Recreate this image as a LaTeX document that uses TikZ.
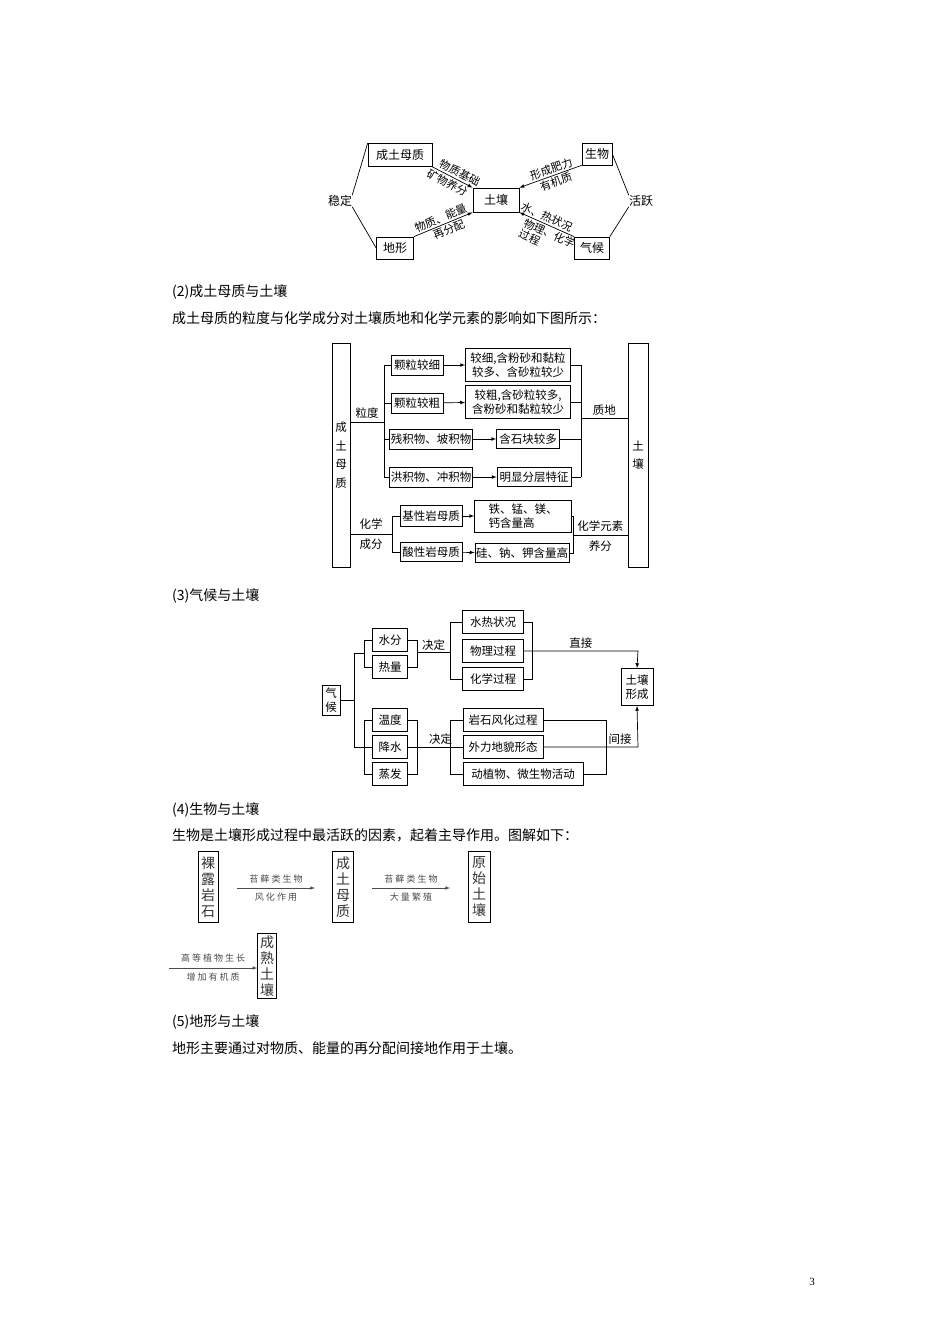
\documentclass[tikz,border=0pt]{standalone}
\usepackage{fontspec}
\setmainfont{Liberation Serif}
\newfontfamily\cjk{Noto Sans CJK SC}
\begin{document}
\begin{tikzpicture}[x=1pt,y=-1pt,
  bx/.style={draw,line width=0.7pt,inner sep=1pt,font=\cjk\fontsize{11.5}{13.5}\selectfont,align=center},
  lb/.style={inner sep=0pt,font=\cjk\fontsize{11.5}{13.5}\selectfont,align=center},
  l1/.style={inner sep=0pt,font=\cjk\fontsize{11}{12}\selectfont,align=center},
  ln/.style={line width=0.7pt},
  ar/.style={line width=0.7pt,-latex},
  tx/.style={anchor=west,inner sep=0pt,font=\cjk\fontsize{14}{16}\selectfont},
  vb/.style={draw,line width=0.6pt,inner sep=1pt,font=\cjk\fontsize{14}{16}\selectfont,align=center,text=black!80},
  sm/.style={inner sep=0pt,font=\cjk\fontsize{9}{11}\selectfont,text=black!70},
  ga/.style={line width=0.6pt,-latex,black!70}]
\useasboundingbox (0,0) rectangle (950,1344);
% ---------- diagram 1
\node[bx,font=\cjk\fontsize{12}{14}\selectfont,minimum width=64,minimum height=23] (m) at (400,155) {成土母质};
\node[bx,font=\cjk\fontsize{12}{14}\selectfont,minimum width=30,minimum height=22] (s) at (597,154) {生物};
\node[bx,font=\cjk\fontsize{12}{14}\selectfont,minimum width=46,minimum height=24] (t) at (496,200) {土壤};
\node[bx,font=\cjk\fontsize{12}{14}\selectfont,minimum width=37,minimum height=22] (d) at (395,248) {地形};
\node[bx,font=\cjk\fontsize{12}{14}\selectfont,minimum width=35,minimum height=22] (q) at (592,248) {气候};
\node[l1,font=\cjk\fontsize{12}{13}\selectfont] (w) at (340,201) {稳定};
\node[l1,font=\cjk\fontsize{12}{13}\selectfont] (h) at (641,201) {活跃};
\draw[ln] (m.north west) -- (w.north east);
\draw[ln] (w.south east) -- (d.west);
\draw[ln] (s.east) -- (h.north west);
\draw[ln] (h.south west) -- (q.north east);
\draw[ar] (m.south east) -- node[l1,sloped,above=1.5pt,pos=0.6]{物质基础} node[l1,sloped,below=1.5pt,pos=0.45]{矿物养分} (t.north west);
\draw[ar] (d.north east) -- node[l1,sloped,above=1.5pt,pos=0.5]{物质、能量} node[l1,sloped,below=1.5pt,pos=0.55]{再分配} (t.south west);
\draw[ar] (s.south west) -- node[l1,sloped,above=1.5pt,pos=0.45]{形成肥力} node[l1,sloped,below=1.5pt,pos=0.45]{有机质} (t.north east);
\draw[ar] (q.north west) -- node[l1,sloped,above=1.5pt,pos=0.55]{水、热状况} node[l1,sloped,below=1.5pt,pos=0.4,align=left]{物理、化学\\过程} (t.south east);
% ---------- text
\node[tx] (t2) at (172,292) {(2)成土母质与土壤};
\node[tx] (t2b) at (172,318) {成土母质的粒度与化学成分对土壤质地和化学元素的影响如下图所示：};
% ---------- diagram 2
\node[bx,minimum width=18,minimum height=224,inner sep=0pt] (M) at (341,455) {成\\[5pt]土\\[5pt]母\\[5pt]质};
\node[bx,minimum width=20,minimum height=224,inner sep=0pt] (T) at (638,455) {土\\[5pt]壤};
\node[bx,minimum width=52,minimum height=20] (a1) at (417,365) {颗粒较细};
\node[bx,minimum width=52,minimum height=20] (a2) at (417,403) {颗粒较粗};
\node[bx,minimum width=80,minimum height=20] (a3) at (431,439) {残积物、坡积物};
\node[bx,minimum width=80,minimum height=20] (a4) at (431,477) {洪积物、冲积物};
\node[bx,minimum width=105,minimum height=33,inner sep=2pt] (b1) at (518,365) {较细,含粉砂和黏粒\\较多、含砂粒较少};
\node[bx,minimum width=105,minimum height=33,inner sep=2pt] (b2) at (518,402) {较粗,含砂粒较多,\\含粉砂和黏粒较少};
\node[bx,minimum width=63,minimum height=19] (b3) at (528,439) {含石块较多};
\node[bx,minimum width=74,minimum height=19] (b4) at (534,477) {明显分层特征};
\coordinate (j1) at (384,422);
\draw[ln] (M.east |- j1) -- node[lb,above=3pt]{粒度} (j1);
\draw[ln] (384,365) -- (384,477);
\foreach \i in {1,...,4} \draw[ln] (384,0 |- a\i.west) -- (a\i.west);
\foreach \i in {1,...,4} \draw[ar] (a\i) -- (b\i);
\draw[ln] (581,365) -- (581,477);
\foreach \i in {1,...,4} \draw[ln] (b\i.east) -- (581,0 |- b\i.east);
\draw[ln] (581,418) -- node[lb,above=2pt]{质地} (T.west |- 0,418);
\node[bx,minimum width=62,minimum height=21] (c1) at (431,516) {基性岩母质};
\node[bx,minimum width=62,minimum height=19] (c2) at (431,552) {酸性岩母质};
\node[bx,minimum width=97,minimum height=32,inner sep=2pt,align=left] (e1) at (523,516) {铁、锰、镁、\\钙含量高};
\node[bx,minimum width=88,minimum height=19] (e2) at (522,553) {硅、钠、钾含量高};
\draw[ln] (M.east |- 0,534) -- node[lb,above=4pt]{化学} node[lb,below=4pt]{成分} (392,534);
\draw[ln] (392,516) -- (392,552);
\draw[ln] (392,516) -- (c1.west);
\draw[ln] (392,552) -- (c2.west);
\draw[ar] (c1) -- (e1);
\draw[ar] (c2) -- (e2);
\draw[ln] (e1.east) -- (573,516) -- (573,553) -- (e2.east);
\draw[ln] (573,535) -- node[lb,above=3pt]{化学元素} node[lb,below=5pt]{养分} (T.west |- 0,535);
% ---------- text
\node[tx] (t3) at (172,596) {(3)气候与土壤};
% ---------- diagram 3
\node[bx,minimum width=18,minimum height=30,inner sep=0pt] (Q) at (331,700) {气\\候};
\node[bx,minimum width=35,minimum height=23] (u1) at (390,640) {水分};
\node[bx,minimum width=35,minimum height=23] (u2) at (390,667) {热量};
\node[bx,minimum width=35,minimum height=23] (u3) at (390,720) {温度};
\node[bx,minimum width=35,minimum height=23] (u4) at (390,747) {降水};
\node[bx,minimum width=35,minimum height=23] (u5) at (390,774) {蒸发};
\node[bx,minimum width=61,minimum height=23] (v1) at (493,622) {水热状况};
\node[bx,minimum width=61,minimum height=23] (v2) at (493,651) {物理过程};
\node[bx,minimum width=61,minimum height=23] (v3) at (493,679) {化学过程};
\node[bx,minimum width=80,minimum height=23] (v4) at (503,720) {岩石风化过程};
\node[bx,minimum width=80,minimum height=23] (v5) at (503,747) {外力地貌形态};
\node[bx,minimum width=120,minimum height=23] (v6) at (523,774) {动植物、微生物活动};
\node[bx,minimum width=32,minimum height=37,inner sep=0pt] (F) at (637,687) {土壤\\形成};
\draw[ln] (Q.east) -- (354,700);
\draw[ln] (354,653) -- (354,747);
\draw[ln] (354,653) -- (364,653);
\draw[ln] (354,747) -- (u4.west);
\draw[ln] (u1.west) -- (364,640) -- (364,667) -- (u2.west);
\draw[ln] (u1.east) -- (417,640) -- (417,667) -- (u2.east);
\draw[ln] (417,652) -- node[lb,above=1pt]{决定} (450,652);
\draw[ln] (v1.west) -- (450,622) -- (450,679) -- (v3.west);
\draw[ln] (v1.east) -- (532,622) -- (532,679) -- (v3.east);
\draw[ar] (v2.east) -- node[lb,above=2pt]{直接} (638,651) -- (F.north);
\draw[ln] (u3.west) -- (364,720) -- (364,774) -- (u5.west);
\draw[ln] (u3.east) -- (417,720) -- (417,774) -- (u5.east);
\draw[ln] (u4.east) -- node[lb,above=2pt,pos=0.6]{决定} (v5.west);
\draw[ln] (v4.west) -- (450,720) -- (450,774) -- (v6.west);
\draw[ln] (v4.east) -- (606,720) -- (606,774) -- (v6.east);
\draw[ar] (v5.east) -- (638,747) -- (F.south);
\node[lb] (jj) at (620,739) {间接};
% ---------- text
\node[tx] (t4) at (172,810) {(4)生物与土壤};
\node[tx] (t4b) at (172,835) {生物是土壤形成过程中最活跃的因素，起着主导作用。图解如下：};
% ---------- diagram 4
\node[vb,minimum width=20,minimum height=71,inner sep=0pt] (r1) at (208,887) {裸\\露\\岩\\石};
\node[vb,minimum width=21,minimum height=71,inner sep=0pt] (r2) at (343,887) {成\\土\\母\\质};
\node[vb,minimum width=22,minimum height=71,inner sep=0pt] (r3) at (479,887) {原\\始\\土\\壤};
\node[vb,minimum width=19,minimum height=65,inner sep=0pt] (r4) at (267,966) {成\\熟\\土\\壤};
\draw[ga] (237,888) -- node[sm,above=4pt]{苔 藓 类 生 物} node[sm,below=5pt]{风 化 作 用} (315,888);
\draw[ga] (372,888) -- node[sm,above=4pt]{苔 藓 类 生 物} node[sm,below=5pt]{大 量 繁 殖} (450,888);
\coordinate (s4) at (169,968);
\draw[ga] (s4) -- node[sm,above=5pt]{高 等 植 物 生 长} node[sm,below=5pt]{增 加 有 机 质} (r4.west |- s4);
% ---------- text
\node[tx] (t5) at (172,1022) {(5)地形与土壤};
\node[tx] (t5b) at (172,1048) {地形主要通过对物质、能量的再分配间接地作用于土壤。};
\node[inner sep=0pt,font=\fontsize{11}{13}\selectfont] (pg) at (812,1282) {3};
\end{tikzpicture}
\end{document}
